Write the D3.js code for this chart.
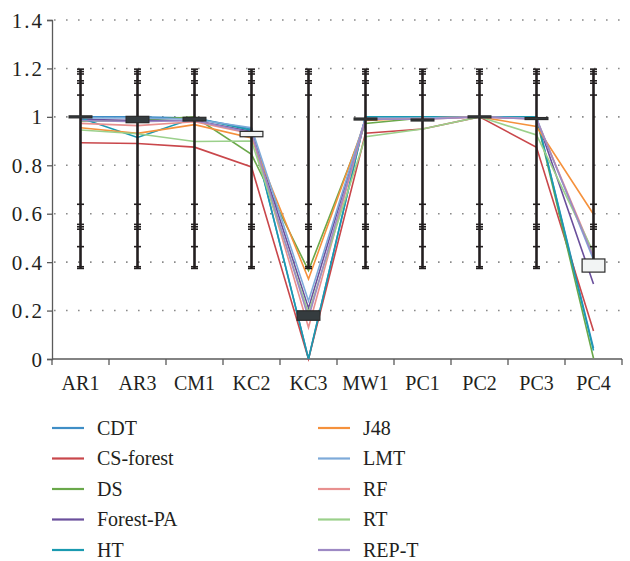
<!DOCTYPE html>
<html>
<head>
<meta charset="utf-8">
<script src="https://cdn.jsdelivr.net/npm/d3@7"></script>
<style>
	body { margin: 0; background: #fff; }
</style>
</head>
<body>
<div id="chart"></div>
<script>
"use strict";

// categories along the x axis
var categories = ["AR1", "AR3", "CM1", "KC2", "KC3", "MW1", "PC1", "PC2", "PC3", "PC4"];

// one array per classifier
var cdt       = [1.000, 1.000, 0.995, 0.950, 0.000, 1.000, 1.000, 1.000, 1.000, 0.045];
var csForest  = [0.893, 0.890, 0.875, 0.793, 0.000, 0.932, 0.950, 1.000, 0.874, 0.116];
var ds        = [0.983, 0.985, 1.000, 0.845, 0.365, 0.973, 0.995, 1.000, 0.995, 0.003];
var forestPA  = [0.990, 0.985, 0.985, 0.940, 0.210, 0.995, 0.995, 1.000, 0.995, 0.310];
var ht        = [0.995, 0.915, 0.995, 0.945, 0.000, 1.000, 1.000, 1.000, 1.000, 0.035];
var j48       = [0.955, 0.932, 0.968, 0.913, 0.330, 0.985, 0.995, 1.000, 0.960, 0.598];
var lmt       = [0.995, 0.995, 0.990, 0.955, 0.240, 0.995, 0.995, 1.000, 0.995, 0.410];
var rf        = [0.973, 0.964, 0.980, 0.930, 0.130, 0.990, 0.990, 1.000, 0.990, 0.430];
var rt        = [0.946, 0.930, 0.898, 0.900, 0.190, 0.918, 0.950, 1.000, 0.925, 0.440];
var repT      = [0.985, 0.980, 0.985, 0.935, 0.170, 0.990, 0.990, 1.000, 0.990, 0.420];

var seriesNames = ["CDT", "CS-forest", "DS", "Forest-PA", "HT", "J48", "LMT", "RF", "RT", "REP-T"];
var seriesValues = [cdt, csForest, ds, forestPA, ht, j48, lmt, rf, rt, repT];
var seriesColors = ["#3f8ec6", "#c9474b", "#6aa84a", "#6a4f9c", "#1a9ab0", "#f5913c", "#7eaad9", "#e8908f", "#9bd08b", "#9d89c4"];

// up/down bars (open, close) at each category
var boxOpen  = [1.000, 0.998, 0.994, 0.922, 0.195, 0.991, 0.987, 1.000, 0.993, 0.363];
var boxClose = [1.000, 0.980, 0.987, 0.936, 0.164, 0.991, 0.987, 1.000, 0.993, 0.409];

// error bar ends and caps (same at every category)
var errTop = 1.197;
var errBottom = 0.374;
var errCaps = [1.197, 1.187, 1.177, 1.149, 1.139, 1.090, 0.639, 0.556, 0.546, 0.536, 0.464, 0.381, 0.374];

var yTicks = [0, 0.2, 0.4, 0.6, 0.8, 1, 1.2, 1.4];

var serif = "Liberation Serif";


function drawChart() {

	var svg = d3.select("#chart").append("svg")
		.attr("width", 630)
		.attr("height", 561);

	var margin = {top: 20, right: 8, bottom: 202, left: 52},
		width = 630 - margin.left - margin.right,
		height = 561 - margin.top - margin.bottom,
		g = svg.append("g").attr("transform", "translate(" + margin.left + "," + margin.top + ")");

	var x = d3.scaleBand().domain(categories).range([0, width]);
	var y = d3.scaleLinear().domain([0, 1.4]).range([height, 0]);
	var cx = function(c) { return x(c) + x.bandwidth() / 2; };

	// dotted grid
	g.append("g")
		.selectAll("line")
		.data(yTicks.slice(1))
		.enter().append("line")
		.attr("x1", 2)
		.attr("x2", width)
		.attr("y1", function(d) { return y(d); })
		.attr("y2", function(d) { return y(d); })
		.attr("stroke", "#8a8a8a")
		.attr("stroke-width", 1.6)
		.attr("stroke-dasharray", "1.6,10.4");

	// y axis
	var yAxis = g.append("g")
		.call(d3.axisLeft(y).tickValues(yTicks).tickSize(5).tickFormat(d3.format("~g")));
	yAxis.attr("font-family", serif).attr("font-size", 21);
	yAxis.select(".domain").attr("stroke", "#5a5a5a").attr("stroke-width", 1.3);
	yAxis.selectAll(".tick line").attr("stroke", "#5a5a5a").attr("stroke-width", 1.3);
	yAxis.selectAll(".tick text")
		.attr("x", -8)
		.attr("dy", "0.34em")
		.attr("letter-spacing", 2)
		.attr("fill", "#231f20");

	// x axis, ticks between categories
	var xAxisG = g.append("g")
		.attr("transform", "translate(0," + height + ")")
		.attr("font-family", serif)
		.attr("font-size", 20);
	xAxisG.append("line")
		.attr("x1", 0).attr("x2", width)
		.attr("stroke", "#5a5a5a").attr("stroke-width", 1.3);
	xAxisG.selectAll(".sep")
		.data(d3.range(categories.length + 1))
		.enter().append("line")
		.attr("class", "sep")
		.attr("x1", function(i) { return i * x.step(); })
		.attr("x2", function(i) { return i * x.step(); })
		.attr("y1", 0).attr("y2", 6)
		.attr("stroke", "#5a5a5a").attr("stroke-width", 1.3);
	xAxisG.selectAll(".lbl")
		.data(categories)
		.enter().append("text")
		.attr("class", "lbl")
		.attr("x", function(d) { return cx(d); })
		.attr("y", 31)
		.attr("text-anchor", "middle")
		.attr("fill", "#231f20")
		.text(function(d) { return d; });

	// series lines
	var line = d3.line()
		.x(function(d, i) { return cx(categories[i]); })
		.y(function(d) { return y(d); });

	g.append("g")
		.selectAll("path")
		.data(seriesValues)
		.enter().append("path")
		.attr("d", function(d) { return line(d); })
		.attr("fill", "none")
		.attr("stroke", function(d, i) { return seriesColors[i]; })
		.attr("stroke-width", 1.6);

	// error bars
	var eb = g.append("g")
		.selectAll("g")
		.data(categories)
		.enter().append("g")
		.attr("transform", function(d) { return "translate(" + cx(d) + ",0)"; });

	eb.append("line")
		.attr("y1", y(errTop))
		.attr("y2", y(errBottom))
		.attr("stroke", "#231f20")
		.attr("stroke-width", 2.6);

	eb.selectAll(".cap")
		.data(errCaps)
		.enter().append("line")
		.attr("class", "cap")
		.attr("x1", -3.5).attr("x2", 3.5)
		.attr("y1", function(d) { return y(d); })
		.attr("y2", function(d) { return y(d); })
		.attr("stroke", "#231f20")
		.attr("stroke-width", 1.6);

	// up/down bars
	var boxW = x.bandwidth() * 0.4;
	g.append("g")
		.selectAll("rect")
		.data(categories)
		.enter().append("rect")
		.attr("x", function(d) { return cx(d) - boxW / 2; })
		.attr("width", boxW)
		.attr("y", function(d, i) { return Math.min(y(boxOpen[i]), y(boxClose[i])) - 1; })
		.attr("height", function(d, i) { return Math.abs(y(boxOpen[i]) - y(boxClose[i])) + 2; })
		.attr("fill", function(d, i) { return boxClose[i] > boxOpen[i] ? "#f2f4f4" : "#353c3f"; })
		.attr("stroke", "#2b2b2b")
		.attr("stroke-width", 1.2);

	// legend, two columns of five
	var legend = svg.append("g")
		.attr("font-family", serif)
		.attr("font-size", 20)
		.selectAll("g")
		.data(seriesNames)
		.enter().append("g")
		.attr("transform", function(d, i) {
			var col = Math.floor(i / 5), row = i % 5;
			return "translate(" + (52 + col * 266) + "," + (428 + row * 30.5) + ")";
		});

	legend.append("line")
		.attr("x1", 0).attr("x2", 32)
		.attr("stroke", function(d, i) { return seriesColors[i]; })
		.attr("stroke-width", 2.2);

	legend.append("text")
		.attr("x", 45)
		.attr("dy", "0.33em")
		.attr("fill", "#231f20")
		.text(function(d) { return d; });
}

drawChart();
</script>
</body>
</html>
